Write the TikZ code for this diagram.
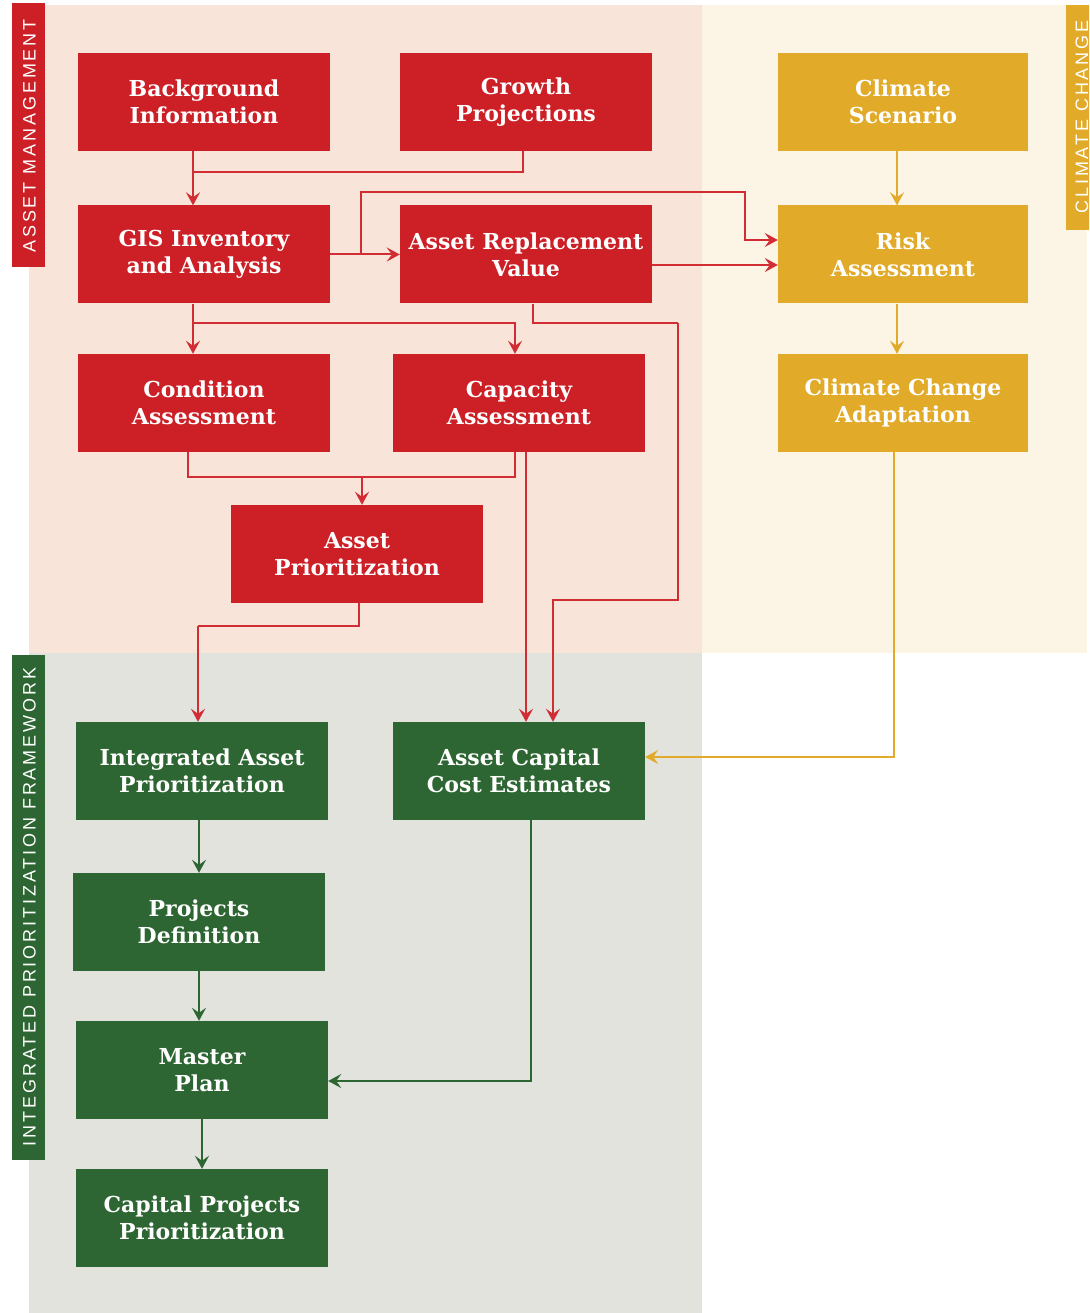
\documentclass[tikz,border=0pt]{standalone}
\usepackage{fontspec}
\setmainfont{DejaVu Serif}
\newfontfamily\tabfont[LetterSpace=16]{Liberation Sans}
\usetikzlibrary{arrows.meta,calc}
\definecolor{amred}{RGB}{204,31,38}
\definecolor{lnred}{RGB}{210,45,52}
\definecolor{ccyel}{RGB}{225,170,40}
\definecolor{ipgreen}{RGB}{45,102,50}
\definecolor{bgpink}{RGB}{249,228,218}
\definecolor{bgcream}{RGB}{252,244,228}
\definecolor{bggrey}{RGB}{225,227,220}
\tikzset{
  boxbase/.style={rectangle, minimum width=252pt, minimum height=98pt, inner sep=0pt,
    text=white, align=center, font=\bfseries\fontsize{22}{27}\selectfont},
  rbox/.style={boxbase, fill=amred},
  ybox/.style={boxbase, fill=ccyel, minimum width=250pt},
  gbox/.style={boxbase, fill=ipgreen},
  tip/.style={-{Stealth[length=13pt,width=14pt,inset=5pt]}},
  rline/.style={draw=lnred, line width=2pt},
  yline/.style={draw=ccyel, line width=2pt},
  gline/.style={draw=ipgreen, line width=2pt},
  tabtext/.style={text=white, font=\tabfont\fontsize{18}{18}\selectfont, rotate=90, inner sep=0pt}
}
\begin{document}
\begin{tikzpicture}[x=1pt,y=-1pt]
\useasboundingbox (0,0) rectangle (1089,1313);
\clip (0,0) rectangle (1089,1313);
% backgrounds
\fill[bgpink] (29,5) rectangle (702,653);
\fill[bgcream] (702,5) rectangle (1087,653);
\fill[bggrey] (29,653) rectangle (702,1313);
% tabs
\fill[amred] (12,3) rectangle (45,267);
\node[tabtext] (tabam) at (29.5,136) {ASSET MANAGEMENT};
\fill[ipgreen] (12,655) rectangle (45,1160);
\node[tabtext] (tabip) at (29.5,907) {INTEGRATED PRIORITIZATION FRAMEWORK};
\fill[ccyel] (1066,5) rectangle (1100,230);
\node[tabtext] (tabcc) at (1082,117) {CLIMATE CHANGE};
% red boxes
\node[rbox] (bg)   at (204,102)   {Background\\Information};
\node[rbox] (gp)   at (526,102)   {Growth\\Projections};
\node[rbox] (gis)  at (204,254.5) {GIS Inventory\\and Analysis};
\node[rbox] (arv)  at (526,254.5) {Asset Replacement\\Value};
\node[rbox] (cond) at (204,403)   {Condition\\Assessment};
\node[rbox] (cap)  at (519,403)   {Capacity\\Assessment};
\node[rbox] (ap)   at (357,554)   {Asset\\Prioritization};
% yellow boxes
\node[ybox] (cs)  at (903,102)   {Climate\\Scenario};
\node[ybox] (ra)  at (903,254.5) {Risk\\Assessment};
\node[ybox] (cca) at (903,403)   {Climate Change\\Adaptation};
% green boxes
\node[gbox] (iap) at (202,771)  {Integrated Asset\\Prioritization};
\node[gbox] (acc) at (519,771)  {Asset Capital\\Cost Estimates};
\node[gbox] (pd)  at (199,922)  {Projects\\Definition};
\node[gbox] (mp)  at (202,1070) {Master\\Plan};
\node[gbox] (cpp) at (202,1218) {Capital Projects\\Prioritization};
% junction coordinates
\coordinate (j1) at (193,172);
\coordinate (j2) at (361,254.5);
\coordinate (j3) at (745,192);
\coordinate (j4) at (193,323);
\coordinate (j5) at (678,323);
\coordinate (j6) at (553,600);
\coordinate (j7) at (188,477);
\coordinate (j8) at (362,477);
\coordinate (j9) at (198,626);
\coordinate (j10) at (894,757);
\coordinate (j11) at (531,1081);
% red connectors
\draw[rline, tip] ([xshift=-11pt]bg.south) -- ([xshift=-11pt]gis.north);
\draw[rline] ([xshift=-3pt]gp.south) |- (j1);
\draw[rline, tip] (gis.east) -- (arv.west);
\draw[rline, tip] (j2) |- (j3) |- ([yshift=14.5pt]ra.west);
\draw[rline, tip] ([yshift=-10.5pt]arv.east) -- ([yshift=-10.5pt]ra.west);
\draw[rline, tip] ([xshift=-11pt]gis.south) -- ([xshift=-11pt]cond.north);
\draw[rline, tip] (j4) -| ([xshift=-4pt]cap.north);
\draw[rline] ([xshift=7pt]arv.south) |- (j5);
\draw[rline, tip] (j5) |- (j6) -- (j6 |- acc.north);
\draw[rline] ([xshift=-16pt]cond.south) |- ([xshift=-4pt]cap.south |- j7) -- ([xshift=-4pt]cap.south);
\draw[rline, tip] (j8) -- (j8 |- ap.north);
\draw[rline, tip] ([xshift=7pt]cap.south) -- ([xshift=7pt]acc.north);
\draw[rline] ([xshift=2pt]ap.south) |- (j9);
\draw[rline, tip] (j9) -- (j9 |- iap.north);
% yellow connectors
\draw[yline, tip] ([xshift=-6pt]cs.south) -- ([xshift=-6pt]ra.north);
\draw[yline, tip] ([xshift=-6pt]ra.south) -- ([xshift=-6pt]cca.north);
\draw[yline, tip] ([xshift=-9pt]cca.south) |- ([yshift=14pt]acc.east);
% green connectors
\draw[gline, tip] (iap.south -| pd.north) -- (pd.north);
\draw[gline, tip] (pd.south) -- (pd.south |- mp.north);
\draw[gline, tip] (mp.south) -- (cpp.north);
\draw[gline, tip] ([xshift=12pt]acc.south) |- (j11) -- ([yshift=-11pt]mp.east);
\end{tikzpicture}
\end{document}
